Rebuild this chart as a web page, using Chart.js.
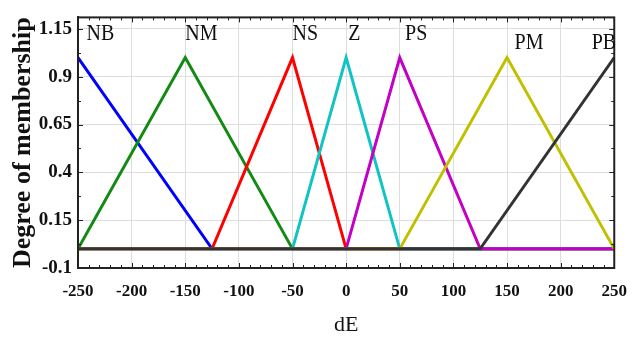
<!DOCTYPE html>
<html>
<head>
<meta charset="utf-8">
<script src="https://cdn.jsdelivr.net/npm/chart.js@4"></script>
<style>
  html, body { margin: 0; padding: 0; background: #fff; }
  canvas { display: block; }
</style>
</head>
<body>
<canvas id="mfChart" width="640" height="338"></canvas>
<script>
// membership functions of dE (breakpoints)
const nbX = [-250, -125, 250];            const nbY = [1, 0, 0];
const nmX = [-250, -150, -50, 250];       const nmY = [0, 1, 0, 0];
const nsX = [-250, -125, -50, 0, 250];    const nsY = [0, 0, 1, 0, 0];
const zX  = [-250, -50, 0, 50, 250];      const zY  = [0, 0, 1, 0, 0];
const psX = [-250, 0, 50, 125, 250];      const psY = [0, 0, 1, 0, 0];
const pmX = [-250, 50, 150, 250];         const pmY = [0, 0, 1, 0];
const pbX = [-250, 125, 250];             const pbY = [0, 0, 1];

const mfNames = ["NB", "NM", "NS", "Z", "PS", "PM", "PB"];
const nameX = [-242, -150, -50, 2, 55, 157, 229];
const nameY = [1.125, 1.125, 1.125, 1.125, 1.125, 1.08, 1.08];

const xTicks = [-250, -200, -150, -100, -50, 0, 50, 100, 150, 200, 250];
const yTicks = [-0.1, 0.15, 0.4, 0.65, 0.9, 1.15];

const colors = ["#0000ff", "#138a13", "#ff0000", "#10c4c4", "#c400c4", "#c0c000", "#333333"];

function pts(xs, ys) {
  return xs.map((x, i) => ({ x: x, y: ys[i] }));
}

const series = [
  pts(nbX, nbY), pts(nmX, nmY), pts(nsX, nsY), pts(zX, zY),
  pts(psX, psY), pts(pmX, pmY), pts(pbX, pbY)
];

const serif = "'Liberation Serif', 'Times New Roman', serif";

// frame, inward ticks (major + minor) and the MF names
const decor = {
  id: "decor",
  afterDatasetsDraw(chart) {
    const ctx = chart.ctx;
    const a = chart.chartArea;
    const xs = chart.scales.x, ys = chart.scales.y;
    ctx.save();
    ctx.strokeStyle = "#222";
    ctx.lineWidth = 1;
    ctx.beginPath();
    for (let v = -250; v <= 250; v += 10) {
      const px = Math.round(xs.getPixelForValue(v)) + 0.5;
      const len = (v % 50 === 0) ? 5 : 3;
      ctx.moveTo(px, a.bottom); ctx.lineTo(px, a.bottom - len);
      ctx.moveTo(px, a.top); ctx.lineTo(px, a.top + len);
    }
    for (let i = 0; i < yTicks.length; i++) {
      const py = Math.round(ys.getPixelForValue(yTicks[i])) + 0.5;
      ctx.moveTo(a.left, py); ctx.lineTo(a.left + 5, py);
      ctx.moveTo(a.right, py); ctx.lineTo(a.right - 5, py);
      if (i < yTicks.length - 1) {
        const pm = Math.round(ys.getPixelForValue((yTicks[i] + yTicks[i + 1]) / 2)) + 0.5;
        ctx.moveTo(a.left, pm); ctx.lineTo(a.left + 3, pm);
        ctx.moveTo(a.right, pm); ctx.lineTo(a.right - 3, pm);
      }
    }
    ctx.stroke();

    ctx.lineWidth = 2;
    ctx.strokeStyle = "#222";
    ctx.strokeRect(a.left, a.top, a.right - a.left, a.bottom - a.top);

    ctx.fillStyle = "#111";
    ctx.font = "20px " + serif;
    ctx.textAlign = "left";
    ctx.textBaseline = "middle";
    mfNames.forEach((n, i) => {
      const px = xs.getPixelForValue(nameX[i]);
      const py = ys.getPixelForValue(nameY[i]);
      ctx.save();
      ctx.translate(px, py);
      ctx.scale(1, 1.2);
      ctx.fillText(n, 0, 0);
      ctx.restore();
    });
    ctx.restore();
  }
};

new Chart("mfChart", {
  type: "line",
  data: {
    datasets: series.map((d, i) => ({
      label: mfNames[i],
      data: d,
      borderColor: colors[i],
      borderWidth: 3,
      borderJoinStyle: "miter",
      pointRadius: 0,
      fill: false,
      tension: 0,
      order: series.length - i
    }))
  },
  options: {
    responsive: false,
    animation: false,
    devicePixelRatio: 1,
    layout: { padding: { top: 17, right: 22, left: 0, bottom: 0 } },
    plugins: {
      legend: { display: false },
      tooltip: { enabled: false }
    },
    scales: {
      x: {
        type: "linear",
        min: -250,
        max: 250,
        afterBuildTicks: s => { s.ticks = xTicks.map(v => ({ value: v })); },
        afterFit: s => { s.height = 70; },
        grid: { color: "#dedede", lineWidth: 1, drawTicks: false },
        border: { color: "#222", width: 2 },
        ticks: {
          padding: 13,
          maxRotation: 0,
          color: "#111",
          font: { family: serif, size: 17, weight: "bold" },
          callback: v => String(v)
        },
        title: {
          display: true,
          text: "dE",
          color: "#111",
          padding: { top: 0, bottom: 0 },
          font: { family: serif, size: 22 }
        }
      },
      y: {
        type: "linear",
        min: -0.1,
        max: 1.21,
        afterBuildTicks: s => { s.ticks = yTicks.map(v => ({ value: v })); },
        afterFit: s => { s.width = 78; },
        grid: { color: "#dedede", lineWidth: 1, drawTicks: false },
        border: { color: "#222", width: 2 },
        ticks: {
          padding: 6,
          color: "#111",
          font: { family: serif, size: 19, weight: "bold" },
          callback: v => String(Math.round(v * 100) / 100)
        },
        title: {
          display: true,
          text: "Degree of membership",
          color: "#111",
          padding: { top: 8, bottom: 0 },
          font: { family: serif, size: 26, weight: "bold" }
        }
      }
    }
  },
  plugins: [decor]
});
</script>
</body>
</html>
